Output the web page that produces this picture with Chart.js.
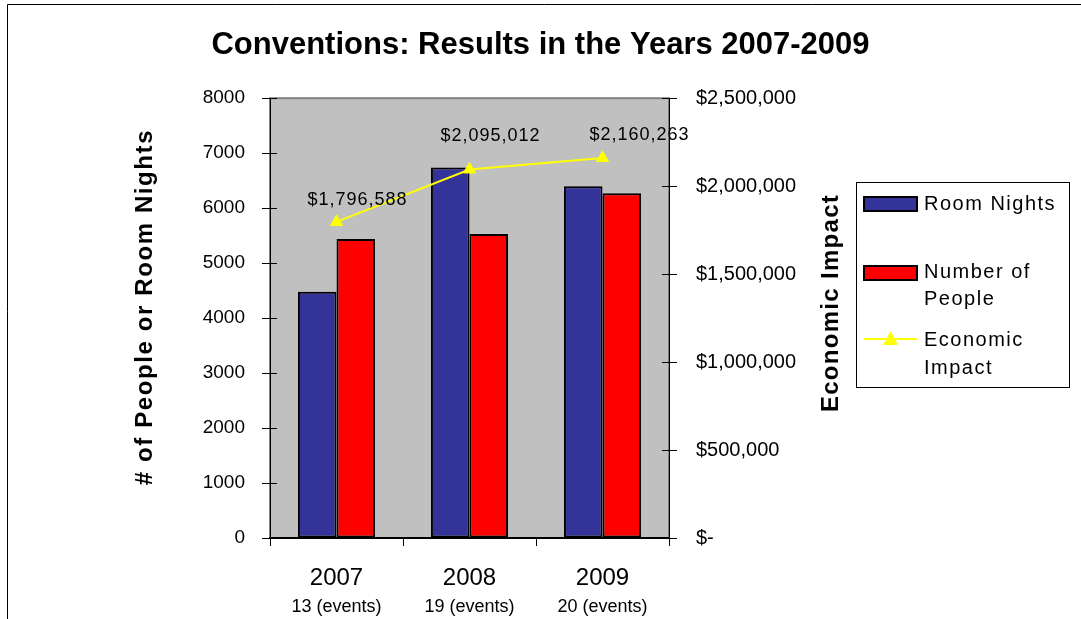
<!DOCTYPE html>
<html lang="en">
<head>
<meta charset="UTF-8">
<title>Conventions: Results in the Years 2007-2009</title>
<style>
  html, body { margin: 0; padding: 0; background: #fff; }
  #wrap { position: relative; width: 1081px; height: 619px; }
</style>
</head>
<body>
<div id="wrap">
  <canvas id="convChart" width="1081" height="619"></canvas>
</div>

<script src="https://cdn.jsdelivr.net/npm/chart.js"></script>
<script>
// chart data
const years = ['2007', '2008', '2009'];
const eventCounts = ['13 (events)', '19 (events)', '20 (events)'];
const roomNights = [4480, 6740, 6400];
const numberOfPeople = [5440, 5530, 6270];
const economicImpact = [1796588, 2095012, 2160263];

const FONT = '"Liberation Sans", Arial, sans-serif';
Chart.defaults.font.family = FONT;
Chart.defaults.color = '#000';

function money(v) {
    if (v === 0) return '$-';
    return '$' + v.toLocaleString('en-US');
}

// white page, frame and grey plot area
const backdrop = {
    id: 'backdrop',
    beforeDraw(chart) {
        const ctx = chart.ctx;
        const a = chart.chartArea;
        ctx.save();
        ctx.fillStyle = '#fff';
        ctx.fillRect(0, 0, chart.width, chart.height);
        ctx.strokeStyle = '#000';
        ctx.lineWidth = 1;
        ctx.beginPath();
        ctx.moveTo(7.5, chart.height);
        ctx.lineTo(7.5, 4.5);
        ctx.lineTo(chart.width, 4.5);
        ctx.stroke();
        ctx.fillStyle = '#C0C0C0';
        ctx.fillRect(a.left, a.top, a.right - a.left, a.bottom - a.top);
        ctx.strokeStyle = '#808080';
        ctx.lineWidth = 2;
        ctx.strokeRect(a.left, a.top, a.right - a.left, a.bottom - a.top);
        ctx.restore();
    }
};

// value labels over the economic impact points
const pointLabels = {
    id: 'pointLabels',
    afterDatasetsDraw(chart) {
        const ctx = chart.ctx;
        const meta = chart.getDatasetMeta(2);
        const dx = [-29, -29, -13];
        const dy = [-22, -33, -23];
        ctx.save();
        ctx.font = '18px ' + FONT;
        ctx.letterSpacing = '1px';
        ctx.fillStyle = '#000';
        ctx.textAlign = 'left';
        ctx.textBaseline = 'middle';
        meta.data.forEach((pt, i) => {
            ctx.fillText(money(economicImpact[i]), pt.x + dx[i], pt.y + dy[i]);
        });
        ctx.restore();
    }
};

// axis titles (both read bottom to top), inner tick marks
const axisExtras = {
    id: 'axisExtras',
    afterDraw(chart) {
        const ctx = chart.ctx;
        const a = chart.chartArea;
        const y = chart.scales.y;
        const y1 = chart.scales.y1;
        ctx.save();
        ctx.strokeStyle = '#000';
        ctx.lineWidth = 1;
        ctx.beginPath();
        y.ticks.forEach(t => {
            const py = Math.round(y.getPixelForValue(t.value)) + 0.5;
            ctx.moveTo(a.left, py);
            ctx.lineTo(a.left + 7, py);
        });
        y1.ticks.forEach(t => {
            const py = Math.round(y1.getPixelForValue(t.value)) + 0.5;
            ctx.moveTo(a.right, py);
            ctx.lineTo(a.right - 7, py);
        });
        ctx.stroke();

        ctx.fillStyle = '#000';
        ctx.font = 'bold 24px ' + FONT;
        ctx.textAlign = 'center';
        ctx.textBaseline = 'middle';
        ctx.letterSpacing = '1.6px';
        ctx.save();
        ctx.translate(145, 307);
        ctx.rotate(-Math.PI / 2);
        ctx.fillText('# of People or Room Nights', 0, 0);
        ctx.restore();
        ctx.letterSpacing = '1.3px';
        ctx.save();
        ctx.translate(831, 303);
        ctx.rotate(-Math.PI / 2);
        ctx.fillText('Economic Impact', 0, 0);
        ctx.restore();
        ctx.restore();
    }
};

// boxed legend on the right, like the original
const boxLegend = {
    id: 'boxLegend',
    afterDraw(chart) {
        const ctx = chart.ctx;
        const ds = chart.data.datasets;
        ctx.save();
        ctx.strokeStyle = '#000';
        ctx.lineWidth = 1;
        ctx.strokeRect(856.5, 182.5, 213, 205);

        // bars
        ctx.lineWidth = 2;
        ctx.fillStyle = ds[0].backgroundColor;
        ctx.fillRect(864, 197, 53, 14);
        ctx.strokeRect(864, 197, 53, 14);
        ctx.fillStyle = ds[1].backgroundColor;
        ctx.fillRect(864, 266, 53, 14);
        ctx.strokeRect(864, 266, 53, 14);

        // line + triangle
        ctx.strokeStyle = ds[2].borderColor;
        ctx.beginPath();
        ctx.moveTo(864, 339);
        ctx.lineTo(917, 339);
        ctx.stroke();
        ctx.fillStyle = ds[2].backgroundColor;
        ctx.beginPath();
        ctx.moveTo(890.5, 331);
        ctx.lineTo(898, 345);
        ctx.lineTo(883, 345);
        ctx.closePath();
        ctx.fill();

        ctx.font = '20px ' + FONT;
        ctx.letterSpacing = '1.5px';
        ctx.fillStyle = '#000';
        ctx.textBaseline = 'middle';
        ctx.textAlign = 'left';
        ctx.fillText('Room Nights', 924, 204);
        ctx.fillText('Number of', 924, 272);
        ctx.fillText('People', 924, 299);
        ctx.fillText('Economic', 924, 340);
        ctx.fillText('Impact', 924, 368);
        ctx.restore();
    }
};

const ctx = document.getElementById('convChart').getContext('2d');
const convChart = new Chart(ctx, {
    type: 'bar',
    data: {
        labels: years,
        datasets: [
            {
                label: 'Room Nights',
                data: roomNights,
                backgroundColor: '#333399',
                borderColor: '#000',
                borderWidth: 2,
                borderSkipped: false,
                categoryPercentage: 0.58,
                barPercentage: 1.0,
                yAxisID: 'y',
                order: 1
            },
            {
                label: 'Number of People',
                data: numberOfPeople,
                backgroundColor: '#FF0000',
                borderColor: '#000',
                borderWidth: 2,
                borderSkipped: false,
                categoryPercentage: 0.58,
                barPercentage: 1.0,
                yAxisID: 'y',
                order: 1
            },
            {
                type: 'line',
                label: 'Economic Impact',
                data: economicImpact,
                borderColor: '#FFFF00',
                backgroundColor: '#FFFF00',
                borderWidth: 2,
                pointStyle: 'triangle',
                pointRadius: 7,
                pointBorderWidth: 1,
                yAxisID: 'y1',
                order: 0
            }
        ]
    },
    options: {
        responsive: false,
        animation: false,
        layout: { padding: 0 },
        plugins: {
            legend: { display: false },
            tooltip: { enabled: false },
            title: {
                display: true,
                text: 'Conventions: Results in the Years 2007-2009',
                color: '#000',
                font: { size: 31, weight: 'bold' },
                padding: { top: 27, bottom: 34 }
            }
        },
        scales: {
            x: {
                type: 'category',
                offset: true,
                weight: 0,
                grid: {
                    offset: true,
                    drawOnChartArea: false,
                    tickLength: 8,
                    tickColor: '#000'
                },
                border: { color: '#000', width: 2 },
                ticks: { font: { size: 24 }, color: '#000', padding: 18 },
                afterFit(s) { s.height = 50; }
            },
            x2: {
                type: 'category',
                labels: eventCounts,
                position: 'bottom',
                offset: true,
                weight: 1,
                grid: { display: false },
                border: { display: false },
                ticks: { font: { size: 18 }, color: '#000', padding: 0 },
                afterFit(s) { s.height = 31; }
            },
            y: {
                position: 'left',
                min: 0,
                max: 8000,
                ticks: {
                    stepSize: 1000,
                    font: { size: 19 },
                    color: '#000',
                    padding: 17,
                    callback: v => String(v)
                },
                grid: { drawOnChartArea: false, tickLength: 8, tickColor: '#000' },
                border: { color: '#000', width: 1 },
                afterFit(s) { s.width = 270; }
            },
            y1: {
                position: 'right',
                min: 0,
                max: 2500000,
                ticks: {
                    stepSize: 500000,
                    font: { size: 20 },
                    color: '#000',
                    padding: 19,
                    callback: v => money(v)
                },
                grid: { drawOnChartArea: false, tickLength: 8, tickColor: '#000' },
                border: { color: '#000', width: 1 },
                afterFit(s) { s.width = 412; }
            }
        }
    },
    plugins: [backdrop, pointLabels, axisExtras, boxLegend]
});
</script>
</body>
</html>
